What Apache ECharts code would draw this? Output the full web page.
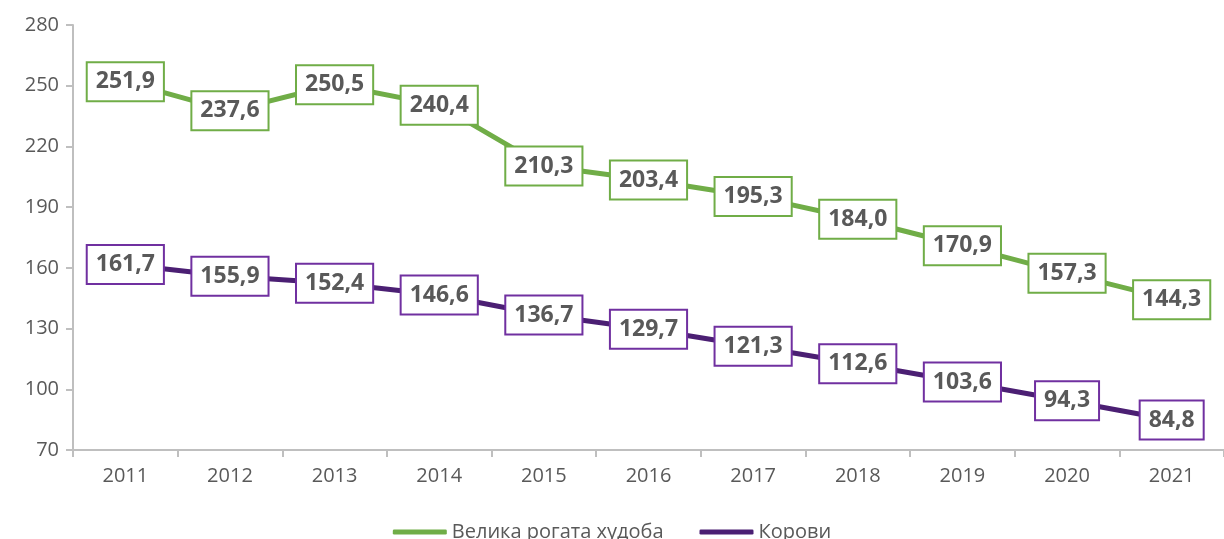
<!DOCTYPE html>
<html><head><meta charset="utf-8">
<script src="https://cdn.jsdelivr.net/npm/echarts@6/dist/echarts.min.js"></script>
<style>html,body{margin:0;padding:0;background:#fff}#c{width:1224px;height:539px}</style>
</head><body><div id="c"></div>
<script>
const categories = ['2011','2012','2013','2014','2015','2016','2017','2018','2019','2020','2021'];
const cattle = [251.9,237.6,250.5,240.4,210.3,203.4,195.3,184.0,170.9,157.3,144.3];
const cows = [161.7,155.9,152.4,146.6,136.7,129.7,121.3,112.6,103.6,94.3,84.8];
const seriesNames = ['Велика рогата худоба','Корови'];

const fmt = p => p.value.toFixed(1).replace('.', ',');
function lbl(border){
  return {show:true, position:'inside', formatter:fmt, color:'#595959', fontWeight:'bold',
    fontSize:23, lineHeight:25, fontFamily:'Open Sans', backgroundColor:'#fff', borderColor:border, borderWidth:2,
    padding:[7,8,5,8]};
}
const chart = echarts.init(document.getElementById('c'));
chart.setOption({
  animation:false,
  grid:{left:73, width:1163, top:25, bottom:89, containLabel:false},
  legend:{bottom:-8, left:'center', itemWidth:54, itemHeight:5, itemGap:36, icon:'roundRect',
    textStyle:{color:'#595959', fontSize:20, fontFamily:'Open Sans'},
    data:seriesNames},
  xAxis:{type:'category', data:categories, boundaryGap:true,
    axisLine:{lineStyle:{color:'#BFBFBF', width:2}},
    axisTick:{show:true, length:7, lineStyle:{color:'#BFBFBF', width:2}},
    axisLabel:{color:'#595959', fontSize:20, fontFamily:'Open Sans', margin:16}},
  yAxis:{type:'value', min:70, max:280, interval:30,
    splitLine:{show:false},
    axisLine:{show:true, lineStyle:{color:'#BFBFBF', width:2}},
    axisTick:{show:true, length:7, lineStyle:{color:'#BFBFBF', width:2}},
    axisLabel:{color:'#595959', fontSize:20, fontFamily:'Open Sans', margin:14}},
  series:[
    {name:seriesNames[0], type:'line', data:cattle, symbol:'circle', symbolSize:0, showSymbol:true,
      lineStyle:{color:'#70AD47', width:5}, itemStyle:{color:'#70AD47'}, label:lbl('#70AD47')},
    {name:seriesNames[1], type:'line', data:cows, symbol:'circle', symbolSize:0, showSymbol:true,
      lineStyle:{color:'#4B1F73', width:5}, itemStyle:{color:'#4B1F73'}, label:lbl('#7030A0')}
  ]
});
</script></body></html>
